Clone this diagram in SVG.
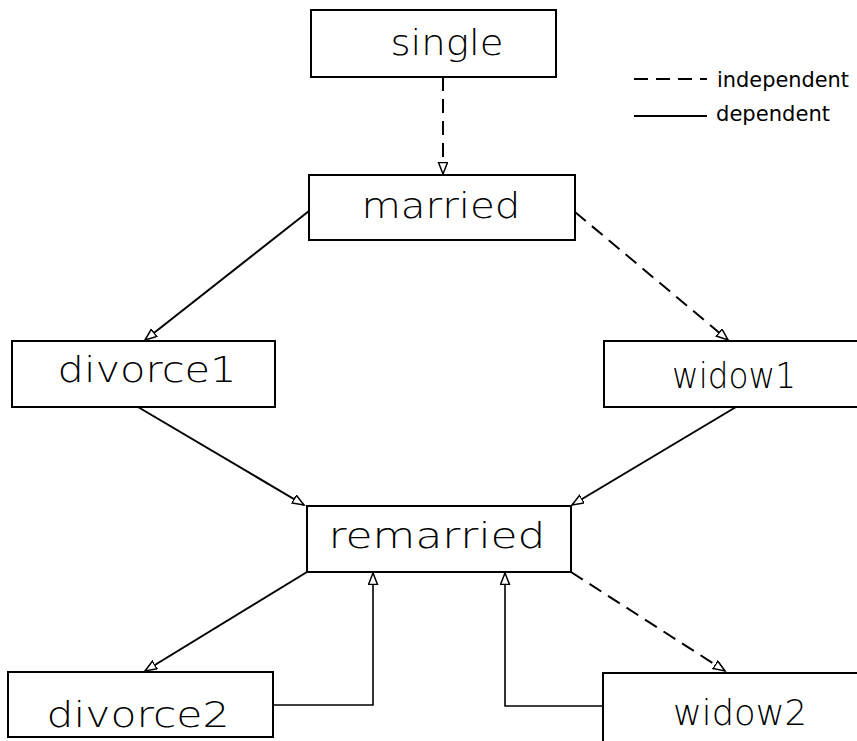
<svg xmlns="http://www.w3.org/2000/svg" width="857" height="741" viewBox="0 0 857 741">
<style>
.box{fill:#fff;stroke:#000;stroke-width:2}
.lbl{font-family:"DejaVu Sans","Liberation Sans",sans-serif;font-size:35px;font-weight:300;fill:#000;text-anchor:middle}
.leg{font-family:"DejaVu Sans","Liberation Sans",sans-serif;font-size:22px;fill:#000}
.c{fill:none;stroke:#000;stroke-width:2}
.t{stroke-width:1.6}
.d{stroke-dasharray:14,8}
</style>
<defs>
<marker id="ah" markerUnits="userSpaceOnUse" markerWidth="14" markerHeight="12" refX="12" refY="5" orient="auto">
<path d="M0.5,0.5 L12,5 L0.5,9.5 z" fill="#fff" stroke="#000" stroke-width="1.5"/>
</marker>
</defs>
<rect width="857" height="741" fill="#fff"/>
<g id="connectors">
<line class="c d" x1="443" y1="77" x2="443" y2="174" marker-end="url(#ah)"/>
<line class="c" x1="309" y1="211" x2="145" y2="340" marker-end="url(#ah)"/>
<line class="c d" x1="575" y1="212" x2="728" y2="340" marker-end="url(#ah)"/>
<line class="c" x1="138" y1="407" x2="304" y2="505" marker-end="url(#ah)"/>
<line class="c" x1="736" y1="407" x2="572" y2="505" marker-end="url(#ah)"/>
<line class="c" x1="307" y1="572" x2="145" y2="671" marker-end="url(#ah)"/>
<polyline class="c t" points="273,705 373,705 373,573" marker-end="url(#ah)"/>
<polyline class="c t" points="603,706 505,706 505,573" marker-end="url(#ah)"/>
<line class="c d" x1="571" y1="572" x2="725" y2="671" marker-end="url(#ah)"/>
<line class="c d" x1="634" y1="79" x2="707" y2="79"/>
<line class="c" x1="634" y1="116" x2="707" y2="116"/>
</g>
<g id="single"><rect class="box" x="311" y="10" width="245" height="67"/><text class="lbl" x="447" y="55" textLength="113" lengthAdjust="spacingAndGlyphs">single</text></g>
<g id="married"><rect class="box" x="309" y="175" width="266" height="65"/><text class="lbl" x="441" y="218" textLength="159" lengthAdjust="spacingAndGlyphs">married</text></g>
<g id="divorce1"><rect class="box" x="12" y="341" width="263" height="66"/><text class="lbl" x="147" y="382" textLength="179" lengthAdjust="spacingAndGlyphs">divorce1</text></g>
<g id="widow1"><rect class="box" x="604" y="341" width="260" height="66"/><text class="lbl" x="734" y="388" textLength="124" lengthAdjust="spacingAndGlyphs">widow1</text></g>
<g id="remarried"><rect class="box" x="307" y="506" width="264" height="66"/><text class="lbl" x="437" y="548" textLength="217" lengthAdjust="spacingAndGlyphs">remarried</text></g>
<g id="divorce2"><rect class="box" x="8" y="672" width="265" height="65"/><text class="lbl" x="138" y="727" textLength="183" lengthAdjust="spacingAndGlyphs">divorce2</text></g>
<g id="widow2"><rect class="box" x="603" y="673" width="260" height="70"/><text class="lbl" x="740" y="725" textLength="134" lengthAdjust="spacingAndGlyphs">widow2</text></g>
<g id="legend">
<text class="leg" x="717" y="87" textLength="132" lengthAdjust="spacingAndGlyphs">independent</text>
<text class="leg" x="716" y="121" textLength="114" lengthAdjust="spacingAndGlyphs">dependent</text>
</g>
</svg>
